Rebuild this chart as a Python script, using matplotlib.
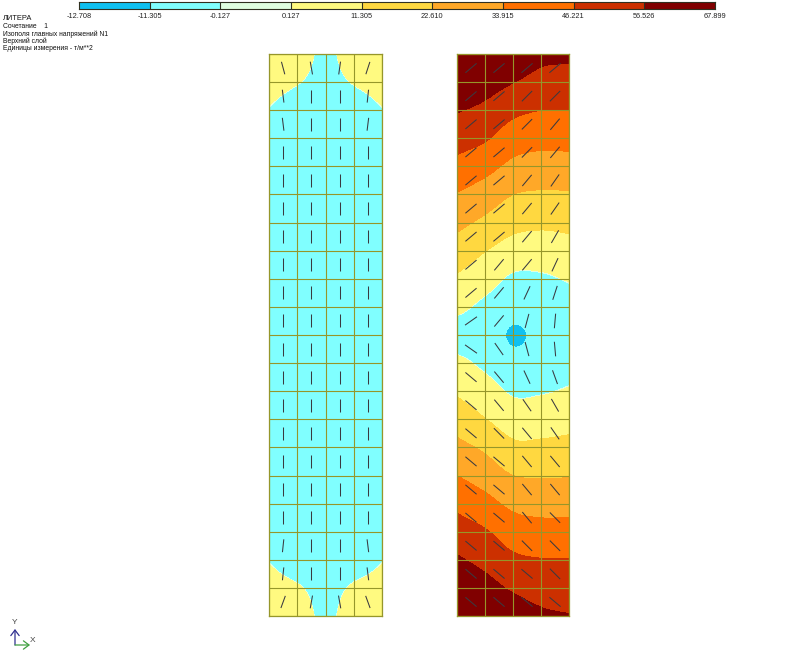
import numpy as np
import matplotlib
matplotlib.use("Agg")
import matplotlib.pyplot as plt
from matplotlib.colors import ListedColormap
from matplotlib.collections import LineCollection

plt.rcParams['font.family'] = ['Liberation Sans', 'DejaVu Sans']

levels = [-12.708, -11.305, -0.127, 0.127, 11.305, 22.61, 33.915, 45.221, 56.526, 67.899]
level_labels = ['-12.708', '-11.305', '-0.127', '0.127', '11.305', '22.610', '33.915', '46.221', '56.526', '67.899']
band_colors = ['#10C0F0', '#80FFFF', '#E0FFE0', '#FFFA80', '#FFD840', '#FFA828', '#FF7000', '#CC3000', '#800000']
info_lines = ['ЛИТЕРА', 'Сочетание    1', 'Изополя главных напряжений N1', 'Верхний слой', 'Единицы измерения - т/м**2']
info_sizes = [5.4, 4.9, 4.9, 4.9, 4.9]

# Nodal stresses, top row first, 5 nodes across, 21 rows
left_values = [
    [9, 9, -4, 9, 9],
    [5, 0.7, -4.6, 0.75, 5],
    [-0.6, -5.5, -6, -5.5, -0.6],
    [-3, -6, -6, -6, -3],
    [-4, -6, -6.5, -6, -4],
    [-4, -6, -6.5, -6, -4],
    [-4, -6, -6.5, -6, -4],
    [-4, -6, -6.5, -6, -4],
    [-4, -6, -6.5, -6, -4],
    [-4, -6, -6.5, -6, -4],
    [-4, -6, -6.5, -6, -4],
    [-4, -6, -6.5, -6, -4],
    [-4, -6, -6.5, -6, -4],
    [-4, -6, -6.5, -6, -4],
    [-4, -6, -6.5, -6, -4],
    [-4, -6, -6.5, -6, -4],
    [-4, -6, -6.5, -6, -4],
    [-3, -6, -6, -6, -3],
    [-0.6, -5.7, -6, -5.7, -0.6],
    [5, 1.25, -4.6, 1.5, 5],
    [9, 9, -4, 9, 9],
]
right_values = [
    [67.8, 67.8, 65.8, 60.0, 58.7],
    [64.9, 61.4, 56.8, 52.5, 52.0],
    [57.3, 53.8, 47.8, 45.2, 45.2],
    [49.8, 46.3, 39.4, 37.3, 37.5],
    [41.9, 37.5, 31.2, 29.4, 29.7],
    [33.3, 28.5, 22.6, 21.2, 21.5],
    [25.4, 20.2, 14.7, 13.3, 14.0],
    [17.5, 11.6, 6.5, 5.8, 7.2],
    [9.8, 4.5, -1.8, -1.6, 0.7],
    [2.6, -2.5, -7.0, -6.0, -3.5],
    [-4.5, -5.0, -12.7, -8.5, -5.5],
    [2.5, -2.2, -7.5, -6.5, -3.5],
    [9.8, 4.7, -1.5, -1.0, 0.9],
    [17.5, 11.6, 5.8, 6.2, 7.5],
    [25.6, 20.7, 13.6, 13.6, 14.5],
    [33.9, 28.8, 22.6, 21.7, 22.0],
    [42.5, 37.5, 31.4, 30.0, 30.0],
    [50.3, 46.2, 39.5, 37.7, 37.9],
    [57.9, 53.2, 47.4, 45.6, 45.5],
    [65.0, 60.5, 55.1, 52.1, 51.0],
    [67.8, 67.0, 62.7, 58.5, 57.0],
]

# Principal direction per cell (degrees from +x, y up), top row first, 4 cells across, 20 rows
left_angles = [
    [105, 100, 82, 72],
    [97, 90, 90, 84],
    [97, 90, 90, 83],
    [90, 90, 90, 90],
    [90, 90, 90, 90],
    [90, 90, 90, 90],
    [90, 90, 90, 90],
    [90, 90, 90, 90],
    [90, 90, 90, 90],
    [90, 90, 90, 90],
    [90, 90, 90, 90],
    [90, 90, 90, 90],
    [90, 90, 90, 90],
    [90, 90, 90, 90],
    [90, 90, 90, 90],
    [90, 90, 90, 90],
    [90, 90, 90, 90],
    [84, 90, 90, 97],
    [84, 90, 90, 97],
    [70, 80, 100, 110],
]
right_angles = [
    [40, 40, 40, 40],
    [40, 40, 45, 45],
    [40, 40, 45, 50],
    [40, 40, 45, 50],
    [40, 40, 50, 55],
    [40, 40, 50, 55],
    [40, 40, 50, 60],
    [40, 50, 50, 65],
    [40, 50, 65, 72],
    [35, 50, 75, 85],
    [-35, -55, -75, -85],
    [-40, -50, -65, -70],
    [-40, -50, -55, -60],
    [-40, -45, -50, -55],
    [-40, -40, -50, -50],
    [-40, -40, -50, -50],
    [-40, -40, -50, -45],
    [-40, -40, -45, -45],
    [-40, -40, -40, -45],
    [-40, -40, -40, -40],
]

W, H = 800, 659
GRID = '#96962A'
MARK = '#3A3A40'
UP = 8

fig = plt.figure(figsize=(W / 100, H / 100), dpi=100, facecolor='white')


def px_axes(x0, y0, x1, y1):
    return fig.add_axes([x0 / W, 1 - y1 / H, (x1 - x0) / W, (y1 - y0) / H])


def smooth_axis(a, axis):
    """Catmull-Rom rendering of the node table along one axis."""
    a = np.moveaxis(a, axis, 0)
    p = np.concatenate([[2 * a[0] - a[1]], a, [2 * a[-1] - a[-2]]])
    m = a.shape[0]
    t = np.linspace(0, m - 1, (m - 1) * UP + 1)
    i = np.minimum(t.astype(int), m - 2)
    u = (t - i).reshape((-1,) + (1,) * (a.ndim - 1))
    p0, p1, p2, p3 = p[i], p[i + 1], p[i + 2], p[i + 3]
    out = 0.5 * (2 * p1 + (p2 - p0) * u + (2 * p0 - 5 * p1 + 4 * p2 - p3) * u ** 2
                 + (3 * p1 - p0 - 3 * p2 + p3) * u ** 3)
    return np.moveaxis(out, 0, axis), t


def panel(x0, x1, values, angles, half_len):
    ax = px_axes(x0, 54, x1, 616)
    vals = np.array(values, dtype=float)
    ang = np.radians(np.array(angles, dtype=float))
    rows, cols = vals.shape
    fine, ys = smooth_axis(vals, 0)
    fine, xs = smooth_axis(fine, 1)
    fine = np.clip(fine, levels[0] + 1e-3, levels[-1] - 1e-3)
    ax.contourf(xs, ys, fine, levels=levels, colors=band_colors)
    ax.set_xlim(0, cols - 1)
    ax.set_ylim(rows - 1, 0)
    ax.set_xticks(np.arange(cols))
    ax.set_yticks(np.arange(rows))
    ax.tick_params(length=0, labelbottom=False, labelleft=False)
    ax.grid(True, color=GRID, lw=0.8)
    ax.set_axisbelow(False)
    for s in ax.spines.values():
        s.set_color(GRID)
        s.set_linewidth(0.9)
    cx, cy = np.meshgrid(np.arange(cols - 1) + 0.5, np.arange(rows - 1) + 0.5)
    dx = half_len * np.cos(ang)
    dy = half_len * np.sin(ang)
    segs = np.stack([np.stack([cx - dx, cy + dy], -1), np.stack([cx + dx, cy - dy], -1)], axis=2)
    ax.add_collection(LineCollection(segs.reshape(-1, 2, 2), colors=MARK, linewidths=0.75, zorder=5))
    return ax


panel(269, 382, left_values, left_angles, 0.23)
panel(457, 569, right_values, right_angles, 0.26)

# Colour scale
cb = px_axes(79, 2, 715, 9)
n = len(band_colors)
cb.pcolormesh(np.arange(n + 1), [0, 1], [np.arange(n)], cmap=ListedColormap(band_colors), edgecolors='none')
for i in range(1, n):
    cb.axvline(i, color='#303020', lw=0.8)
cb.set_xlim(0, n)
cb.set_yticks([])
cb.set_xticks(np.arange(n + 1))
cb.set_xticklabels(level_labels, fontsize=5.3, color='#222222')
cb.tick_params(axis='x', length=0, pad=2.8)
for s in cb.spines.values():
    s.set_color('#303020')
    s.set_linewidth(0.8)

# Header text and coordinate triad on a full-figure overlay
ov = fig.add_axes([0, 0, 1, 1], facecolor='none', zorder=-1)
ov.set_xlim(0, W)
ov.set_ylim(H, 0)
ov.axis('off')
for line, size, y in zip(info_lines, info_sizes, [19, 26, 34, 41.5, 49]):
    ov.text(3, y, line, fontsize=size, va='center', ha='left', color='#111111')
ov.annotate('', xy=(15, 629), xytext=(15, 645),
            arrowprops=dict(arrowstyle='->,head_length=0.4,head_width=0.3', color='#303090', lw=0.9,
                            shrinkA=0, shrinkB=0))
ov.annotate('', xy=(30, 645), xytext=(15, 645),
            arrowprops=dict(arrowstyle='->,head_length=0.4,head_width=0.3', color='#40A040', lw=0.9,
                            shrinkA=0, shrinkB=0))
ov.text(14.5, 622, 'Y', fontsize=6, ha='center', va='center', color='#444444')
ov.text(33, 641, 'X', fontsize=6, ha='center', va='center', color='#444444')

fig.savefig('out.png', dpi=100, facecolor='white')
